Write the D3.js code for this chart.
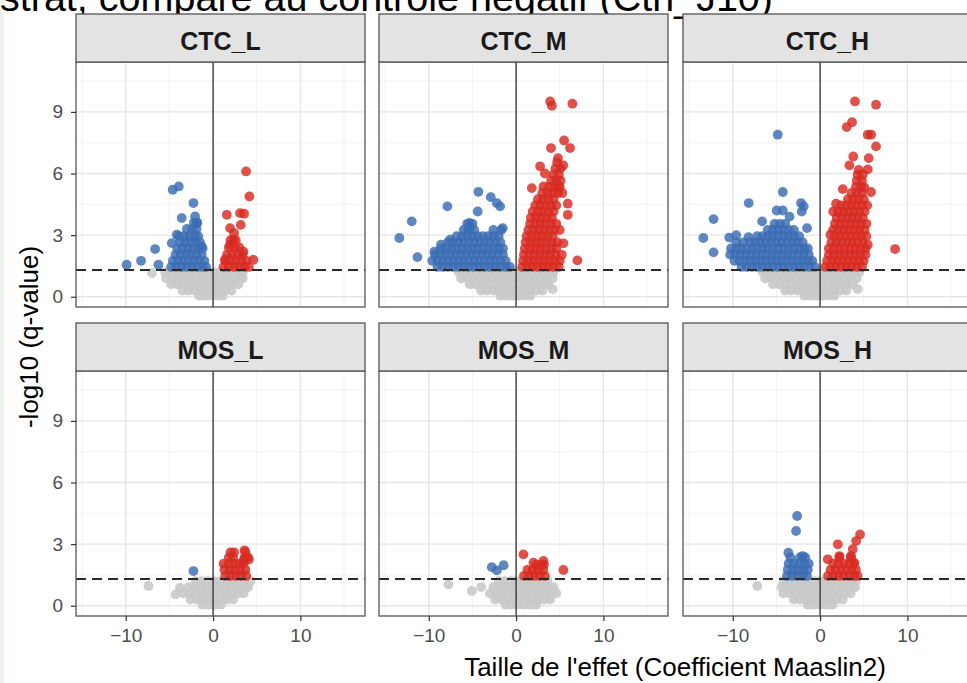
<!DOCTYPE html>
<html><head><meta charset="utf-8">
<script src="https://cdn.jsdelivr.net/npm/d3@7"></script>
<style>body{margin:0;background:#fff;overflow:hidden}svg{display:block;font-family:"Liberation Sans",Arial,Helvetica,sans-serif}</style>
</head><body><svg id="c" width="967" height="683"></svg>
<script>
// ---- text / ticks ----
const panelNames = ["CTC_L","CTC_M","CTC_H","MOS_L","MOS_M","MOS_H"];
const xTicks = [-10, 0, 10];
const xMinorTicks = [-15, -5, 5, 15];
const yTicks = [0, 3, 6, 9];
const yMinorTicks = [1.5, 4.5, 7.5, 10.5];
const qThreshold = 1.3;
const titleText = "strat, comparé au contrôle négatif (Ctrl_J10)";
const xTitle = "Taille de l'effet (Coefficient Maaslin2)";
const yTitle = "-log10 (q-value)";

// ---- data: rows of [y (-log10 q), x coefficients...] ----
const ctcL_grey = [
 [1.2,-5.5,-4.8,-4.1,-3.4,-2.7,-2.0,-1.3,-0.6,0.1,0.8,1.5,2.2,2.9,3.4],
 [0.9,-5.4,-4.7,-4.0,-3.3,-2.6,-1.9,-1.2,-0.5,0.2,0.9,1.6,2.3,3.0,3.4],
 [0.6,-4.8,-4.1,-3.4,-2.7,-2.0,-1.3,-0.6,0.1,0.8,1.5,2.2,2.9],
 [0.3,-3.5,-2.8,-2.1,-1.4,-0.7,0,0.7,1.4,2.1],
 [0.05,-1.6,-0.9,-0.2,0.5,1.1],
 [1.15,-7.0]
];
const ctcL_down = [
 [1.45,-4.8,-4.2,-3.6,-3.0,-2.4,-1.8,-1.2,-0.8],
 [1.75,-4.6,-4.0,-3.4,-2.8,-2.2,-1.6,-1.0],
 [2.05,-4.3,-3.7,-3.1,-2.5,-1.9,-1.3],
 [2.35,-4.1,-3.5,-2.9,-2.3,-1.7,-1.2],
 [2.65,-3.8,-3.2,-2.6,-2.0,-1.5],
 [2.95,-3.9,-3.3,-2.7,-2.1,-1.7],
 [3.3,-3.0,-2.4,-1.9],[3.6,-2.2,-1.8],
 [1.56,-9.9],[1.75,-8.25],[2.32,-6.64],[1.56,-6.26],[5.21,-4.62],[5.37,-3.93],[4.56,-2.25],
 [3.83,-3.59],[3.91,-2.06],[3.59,-1.87],[3.02,-4.16],[2.61,-4.73],[2.45,-1.3]
];
const ctcL_up = [
 [1.45,1.2,1.8,2.4,3.0,3.6,4.1],
 [1.75,1.4,2.0,2.6,3.2,3.8],
 [2.05,1.6,2.2,2.8,3.4],
 [2.4,1.8,2.5,3.0],[2.75,2.0,2.6],[3.1,2.4],
 [6.1,3.78],[4.88,4.16],[3.99,1.57],[4.07,3.09],[4.04,3.55],[3.34,1.95],[3.5,3.17],
 [2.78,2.33],[2.53,1.95],[1.8,4.62],[2.2,3.47],[1.8,1.37]
];

const ctcM_grey = [
 [1.2,-6.6,-5.9,-5.2,-4.5,-3.8,-3.1,-2.4,-1.7,-1.0,-0.3,0.4,1.1,1.8,2.5,3.2,3.8,4.3],
 [0.9,-6.3,-5.6,-4.9,-4.2,-3.5,-2.8,-2.1,-1.4,-0.7,0,0.7,1.4,2.1,2.8,3.5,4.2],
 [0.6,-5.3,-4.6,-3.9,-3.2,-2.5,-1.8,-1.1,-0.4,0.3,1.0,1.7,2.4,3.1,3.7],
 [0.3,-4.0,-3.3,-2.6,-1.9,-1.2,-0.5,0.2,0.9,1.6,2.3,3.0],
 [0.37,4.2],
 [0.05,-1.8,-1.1,-0.4,0.3,1.0,1.6]
];
const ctcM_down = [
 [1.45,-9.0,-8.4,-7.8,-7.2,-6.6,-6.0,-5.4,-4.8,-4.2,-3.6,-3.0,-2.4,-1.8,-1.2,-0.7],
 [1.75,-9.6,-9.0,-8.4,-7.8,-7.2,-6.6,-6.0,-5.4,-4.8,-4.2,-3.6,-3.0,-2.4,-1.8,-1.2],
 [2.05,-9.3,-8.7,-8.1,-7.5,-6.9,-6.3,-5.7,-5.1,-4.5,-3.9,-3.3,-2.7,-2.1,-1.5],
 [2.35,-8.6,-8.0,-7.4,-6.8,-6.2,-5.6,-5.0,-4.4,-3.8,-3.2,-2.6,-2.0,-1.5],
 [2.65,-7.8,-7.2,-6.6,-6.0,-5.4,-4.8,-4.2,-3.6,-3.0,-2.4,-1.8],
 [2.95,-6.8,-6.2,-5.6,-5.0,-4.4,-3.8,-3.2,-2.6,-2.0],
 [3.25,-6.0,-5.4,-4.8,-2.6,-1.7],[3.55,-5.6,-5.0],
 [2.86,-13.37],[3.67,-11.95],[1.93,-11.3],[4.4,-7.87],[5.11,-4.32],[4.85,-2.9],[4.56,-2.21],
 [4.4,-1.83],[4.15,-4.4],[3.59,-5.35],[3.26,-5.46],[3.34,-1.53],[2.78,-7.56],[2.53,-8.6],[2.2,-9.35]
];
const ctcM_up = [
 [1.45,0.7,1.3,1.9,2.5,3.1,3.7,4.3,4.9],
 [1.75,0.8,1.4,2.0,2.6,3.2,3.8,4.4,5.0],
 [2.05,0.9,1.5,2.1,2.7,3.3,3.9,4.5],
 [2.35,1.0,1.6,2.2,2.8,3.4,4.0,4.6],
 [2.65,1.1,1.7,2.3,2.9,3.5,4.1,4.7],
 [2.95,1.2,1.8,2.4,3.0,3.6,4.2],
 [3.25,1.4,2.0,2.6,3.2,3.8,4.4,5.0],
 [3.55,1.6,2.2,2.8,3.4,4.0,4.6],
 [3.85,1.7,2.3,2.9,3.5,4.1],
 [4.15,1.9,2.5,3.1,3.7,4.3],
 [4.45,2.2,2.8,3.4,4.0,4.6],
 [4.75,2.5,3.1,3.7,4.3],
 [5.05,3.0,3.6,4.2,4.8,5.3],
 [5.35,3.8,4.4,5.0],[5.65,4.0,4.6,5.1],[5.95,4.3,4.9],[6.25,4.5,5.1],[6.55,4.7],
 [9.51,3.9],[9.3,4.1],[9.4,6.45],[7.61,5.5],[7.24,6.18],[7.24,4.0],[6.75,4.8],[6.35,2.75],
 [6.0,3.3],[6.4,5.4],[5.29,1.8],[5.37,3.14],[5.37,4.85],[4.53,5.92],[3.99,5.92],[2.6,5.42],
 [2.04,5.23],[1.77,7.02]
];

const ctcH_grey = [
 [1.2,-6.6,-5.9,-5.2,-4.5,-3.8,-3.1,-2.4,-1.7,-1.0,-0.3,0.4,1.1,1.8,2.5,3.2,3.9,4.5],
 [0.9,-6.3,-5.6,-4.9,-4.2,-3.5,-2.8,-2.1,-1.4,-0.7,0,0.7,1.4,2.1,2.8,3.5,4.2],
 [0.6,-5.4,-4.7,-4.0,-3.3,-2.6,-1.9,-1.2,-0.5,0.2,0.9,1.6,2.3,3.0,3.7],
 [0.3,-4.0,-3.3,-2.6,-1.9,-1.2,-0.5,0.2,0.9,1.6,2.3,3.0],
 [0.37,4.3],
 [0.05,-1.8,-1.1,-0.4,0.3,1.0,1.6]
];
const ctcH_down = [
 [1.45,-9.0,-8.4,-7.8,-7.2,-6.6,-6.0,-5.4,-4.8,-4.2,-3.6,-3.0,-2.4,-1.8,-1.2,-0.6],
 [1.75,-9.8,-9.2,-8.6,-8.0,-7.4,-6.8,-6.2,-5.6,-5.0,-4.4,-3.8,-3.2,-2.6,-2.0,-1.4,-0.9],
 [2.05,-10.3,-9.7,-9.1,-8.5,-7.9,-7.3,-6.7,-6.1,-5.5,-4.9,-4.3,-3.7,-3.1,-2.5,-1.9,-1.3],
 [2.35,-10.2,-9.6,-9.0,-8.4,-7.8,-7.2,-6.6,-6.0,-5.4,-4.8,-4.2,-3.6,-3.0,-2.4,-1.8,-1.4],
 [2.65,-9.6,-8.8,-8.0,-7.4,-6.8,-6.2,-5.6,-5.0,-4.4,-3.8,-3.2,-2.6,-2.0],
 [2.95,-7.2,-6.6,-6.0,-5.4,-4.8,-4.2,-3.6,-3.0,-2.4],
 [3.25,-6.0,-5.4,-4.8,-4.2,-3.6,-3.0],[3.55,-5.2,-4.6,-4.0],
 [2.86,-13.37],[3.78,-12.2],[2.16,-12.2],[2.88,-10.4],[3.0,-9.6],[4.56,-8.17],[7.89,-4.85],
 [5.1,-4.27],[3.67,-6.64],[4.2,-4.97],[4.2,-4.27],[3.9,-3.5],[4.56,-2.18],[4.4,-1.87],
 [4.15,-2.1],[3.34,-1.49],[2.9,-8.2]
];
const ctcH_up = [
 [1.45,0.6,1.2,1.8,2.4,3.0,3.6,4.2,4.8],
 [1.75,0.8,1.4,2.0,2.6,3.2,3.8,4.4,5.0],
 [2.05,1.0,1.6,2.2,2.8,3.4,4.0,4.6,5.2],
 [2.35,1.0,1.6,2.2,2.8,3.4,4.0,4.6,5.2],
 [2.65,1.3,1.9,2.5,3.1,3.7,4.3,4.9],
 [2.95,1.7,2.3,2.9,3.5,4.1,4.7,5.3],
 [3.25,1.5,2.1,2.7,3.3,3.9,4.5,5.1],
 [3.55,1.7,2.3,2.9,3.5,4.1,4.7,5.3],
 [3.85,1.9,2.5,3.1,3.7,4.3,4.9],
 [4.15,1.5,2.1,2.7,3.3,3.9,4.5,5.1],
 [4.45,2.4,3.0,3.6,4.2,4.8,5.4],
 [4.75,3.2,3.8,4.4,5.0],[5.05,3.6,4.2,4.8],[5.35,4.1,4.7],[5.65,4.2,4.8],[5.95,4.3,4.9],
 [9.51,4.0],[9.35,6.41],[8.26,3.05],[8.5,3.66],[7.89,5.46],[7.89,5.84],[7.32,6.41],
 [6.83,3.8],[6.75,5.57],[6.4,3.36],[6.2,5.46],[6.17,4.43],[5.24,2.6],[5.1,5.84],[5.32,5.07],
 [4.53,1.83],[3.02,1.18],[2.32,8.59],[2.53,5.46]
];

const mosL_grey = [
 [1.2,-2.0,-1.3,-0.6,0.1,0.8,1.5,2.2,2.9,3.6,4.3],
 [0.9,-2.8,-2.1,-1.4,-0.7,0,0.7,1.4,2.1,2.8,3.5,4.0],
 [0.6,-3.4,-2.7,-2.0,-1.3,-0.6,0.1,0.8,1.5,2.2,2.9,3.5],
 [0.3,-2.6,-1.9,-1.2,-0.5,0.2,0.9,1.6,2.3],
 [0.05,-1.2,-0.5,0.2,0.9],
 [0.96,-7.4],[0.55,-4.3],[0.87,-3.8]
];
const mosL_down = [[1.69,-2.25]];
const mosL_up = [
 [1.45,1.4,2.0,2.6,3.2,3.8],
 [1.75,1.3,1.9,2.5,3.1,3.7],
 [2.05,1.2,1.8,2.4,3.0,3.5],
 [2.35,1.8,2.3,3.6,4.0],
 [2.6,2.0,2.4,3.7],
 [2.7,3.6],[2.25,4.1],[2.2,3.5]
];

const mosM_grey = [
 [1.2,-2.0,-1.3,-0.6,0.1,0.8,1.5,2.2,2.9,3.6],
 [0.9,-2.6,-1.9,-1.2,-0.5,0.2,0.9,1.6,2.3,3.0,3.7,4.3],
 [0.6,-3.0,-2.3,-1.6,-0.9,-0.2,0.5,1.2,1.9,2.6,3.3,4.0,4.6],
 [0.3,-2.4,-1.7,-1.0,-0.3,0.4,1.1,1.8,2.5,3.2,3.9],
 [0.05,-1.2,-0.5,0.2,0.9,1.6,2.3],
 [1.04,-7.75],[0.72,-5.07],[0.91,-4.0]
];
const mosM_down = [[1.88,-2.79],[1.72,-2.2],[1.97,-1.42]];
const mosM_up = [
 [1.45,0.9,1.5,2.1,2.7,3.3],
 [1.75,1.3,1.9,2.5,3.1],
 [2.0,2.3,2.9,3.2],
 [2.5,0.84],[2.1,1.99],[2.18,3.13],[1.74,5.42]
];

const mosH_grey = [
 [1.2,-4.2,-3.5,-2.8,-2.1,-1.4,-0.7,0,0.7,1.4,2.1,2.8,3.5,4.1],
 [0.9,-4.4,-3.7,-3.0,-2.3,-1.6,-0.9,-0.2,0.5,1.2,1.9,2.6,3.3,4.0],
 [0.6,-4.2,-3.5,-2.8,-2.1,-1.4,-0.7,0,0.7,1.4,2.1,2.8,3.5],
 [0.3,-3.0,-2.3,-1.6,-0.9,-0.2,0.5,1.2,1.9,2.6],
 [0.05,-1.4,-0.7,0,0.7,1.4],
 [0.96,-7.2]
];
const mosH_down = [
 [1.45,-3.8,-3.2,-2.6,-2.0,-1.5],
 [1.75,-3.7,-3.1,-2.5,-1.9,-1.4],
 [2.05,-3.6,-3.0,-2.4,-1.8,-1.3],
 [2.35,-3.4,-2.3,-1.7],
 [4.37,-2.63],[3.64,-2.75],[2.58,-3.63],[2.42,-1.99]
];
const mosH_up = [
 [1.45,0.9,1.5,2.1,2.7,3.3,3.9,4.3],
 [1.75,1.2,1.8,2.4,3.0,3.6,4.1],
 [2.05,1.5,2.1,2.7,3.3,3.9],
 [2.35,2.2,3.5],
 [3.47,4.58],[3.15,4.13],[2.75,3.74],[2.99,2.03],[2.26,0.88],[2.42,2.22],[2.42,3.55],[2.1,3.9]
];

const greyByPanel = [ctcL_grey, ctcM_grey, ctcH_grey, mosL_grey, mosM_grey, mosH_grey];
const downByPanel = [ctcL_down, ctcM_down, ctcH_down, mosL_down, mosM_down, mosH_down];
const upByPanel   = [ctcL_up, ctcM_up, ctcH_up, mosL_up, mosM_up, mosH_up];

// ---- layout ----
const W = 967, H = 683;
const colX = [76, 379, 683], rowTop = [62, 371];
const pw = 289, ph = 245, stripH = 48;
const R = 4.9;

const x = d3.scaleLinear().domain([-15.7, 17.4]).range([0, pw]);
const y = d3.scaleLinear().domain([-0.5, 11.43]).range([ph, 0]);
const expand = rows => rows.flatMap(([yy, ...xs]) => xs.map(xx => ({x: xx, y: yy})));

const svg = d3.select("#c");
svg.append("rect").attr("width", W).attr("height", H).attr("fill", "#fff");
svg.append("rect").attr("width", 4).attr("height", H).attr("fill", "#eef5ea");

// title (cropped at top in the reference)
svg.append("text").attr("x", 0).attr("y", 10.5).attr("font-size", 38)
  .attr("textLength", 773).attr("lengthAdjust", "spacingAndGlyphs")
  .attr("fill", "#000").text(titleText);

panelNames.forEach((name, i) => {
  const c = i % 3, r = Math.floor(i / 3);
  const g = svg.append("g").attr("transform", `translate(${colX[c]},${rowTop[r]})`);
  const cid = "clip" + i;
  g.append("clipPath").attr("id", cid).append("rect").attr("width", pw).attr("height", ph);
  g.append("rect").attr("width", pw).attr("height", ph).attr("fill", "#fff");

  // grid
  g.selectAll(".gxm").data(xMinorTicks).join("line")
    .attr("x1", d => x(d)).attr("x2", d => x(d)).attr("y1", 0).attr("y2", ph)
    .attr("stroke", "#f0f0f0").attr("stroke-width", 0.9);
  g.selectAll(".gym").data(yMinorTicks).join("line")
    .attr("y1", d => y(d)).attr("y2", d => y(d)).attr("x1", 0).attr("x2", pw)
    .attr("stroke", "#f0f0f0").attr("stroke-width", 0.9);
  g.selectAll(".gx").data(xTicks).join("line")
    .attr("x1", d => x(d)).attr("x2", d => x(d)).attr("y1", 0).attr("y2", ph)
    .attr("stroke", "#e6e6e6").attr("stroke-width", 1.4);
  g.selectAll(".gy").data(yTicks).join("line")
    .attr("y1", d => y(d)).attr("y2", d => y(d)).attr("x1", 0).attr("x2", pw)
    .attr("stroke", "#e6e6e6").attr("stroke-width", 1.4);

  // points
  const pg = g.append("g").attr("clip-path", `url(#${cid})`);
  const layers = [
    [greyByPanel[i], "#c9c9c9", 0.9],
    [downByPanel[i], "#3a6cb3", 0.82],
    [upByPanel[i], "#d82b21", 0.82]
  ];
  layers.forEach(([rows, col, op]) => {
    pg.append("g").selectAll("circle").data(expand(rows)).join("circle")
      .attr("cx", d => x(d.x)).attr("cy", d => y(d.y)).attr("r", R)
      .attr("fill", col).attr("fill-opacity", op);
  });

  // reference lines
  g.append("line").attr("x1", x(0)).attr("x2", x(0)).attr("y1", 0).attr("y2", ph)
    .attr("stroke", "#111").attr("stroke-width", 1.1);
  g.append("line").attr("x1", 0).attr("x2", pw).attr("y1", y(qThreshold)).attr("y2", y(qThreshold))
    .attr("stroke", "#2a2a2a").attr("stroke-width", 2).attr("stroke-dasharray", "10,6");

  // border
  g.append("rect").attr("width", pw).attr("height", ph).attr("fill", "none")
    .attr("stroke", "#555").attr("stroke-width", 1.3);

  // strip
  g.append("rect").attr("y", -stripH).attr("width", pw).attr("height", stripH)
    .attr("fill", "#e3e3e3").attr("stroke", "#555").attr("stroke-width", 1.3);
  g.append("text").attr("x", pw / 2).attr("y", -stripH + 36).attr("text-anchor", "middle")
    .attr("font-weight", "bold").attr("font-size", 25).attr("fill", "#1a1a1a").text(name);

  // axes
  if (c === 0) {
    const ax = g.append("g").call(d3.axisLeft(y).tickValues(yTicks).tickSize(5).tickPadding(8));
    ax.select(".domain").remove();
    ax.selectAll("line").attr("stroke", "#333").attr("stroke-width", 1.2);
    ax.selectAll("text").attr("font-size", 19).attr("fill", "#4d4d4d").attr("font-family", "Liberation Sans, Arial, sans-serif");
  }
  if (r === 1) {
    const ax = g.append("g").attr("transform", `translate(0,${ph})`)
      .call(d3.axisBottom(x).tickValues(xTicks).tickSize(5).tickPadding(8));
    ax.select(".domain").remove();
    ax.selectAll("line").attr("stroke", "#333").attr("stroke-width", 1.2);
    ax.selectAll("text").attr("font-size", 19).attr("fill", "#4d4d4d").attr("font-family", "Liberation Sans, Arial, sans-serif");
  }
});

// axis titles
svg.append("text").attr("transform", "translate(38,337) rotate(-90)").attr("text-anchor", "middle")
  .attr("font-size", 26).attr("fill", "#000").text(yTitle);
svg.append("text").attr("x", 675).attr("y", 676).attr("text-anchor", "middle")
  .attr("font-size", 26).attr("fill", "#000").text(xTitle);
</script>
</body></html>
